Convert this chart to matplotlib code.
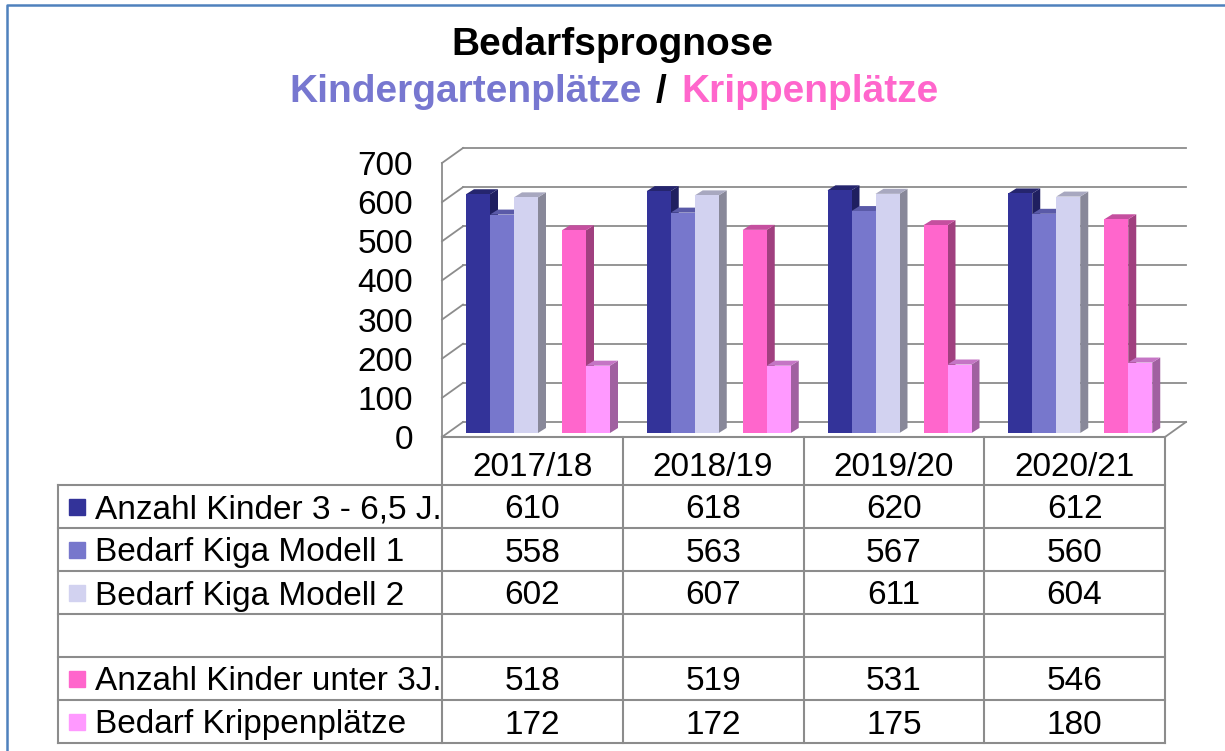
import matplotlib
matplotlib.use('Agg')
import matplotlib.pyplot as plt
from matplotlib.lines import Line2D
from matplotlib.patches import Polygon
import numpy as np

plt.rcParams['font.family'] = ['Liberation Sans', 'DejaVu Sans']

#%% DATEN
jahre = ['2017/18', '2018/19', '2019/20', '2020/21']
reihen = ['Anzahl Kinder 3 - 6,5 J.', 'Bedarf Kiga Modell 1', 'Bedarf Kiga Modell 2', '',
          'Anzahl Kinder unter 3J.', 'Bedarf Krippenplätze']
kinder_3_65 = [610, 618, 620, 612]
kiga_modell1 = [558, 563, 567, 560]
kiga_modell2 = [602, 607, 611, 604]
leer = [None, None, None, None]   # leere Zeile in der Tabelle
kinder_u3 = [518, 519, 531, 546]
krippe = [172, 172, 175, 180]
werte = [kinder_3_65, kiga_modell1, kiga_modell2, leer, kinder_u3, krippe]
y_ticks = [0, 100, 200, 300, 400, 500, 600, 700]

# Farben: vorne, oben, seite
farben = [('#333399', '#25256e', '#1f1f60'),
          ('#7777cc', '#5a5aa8', '#4f4f95'),
          ('#d2d2f0', '#a8a8c0', '#888899'),
          None,
          ('#ff66cc', '#c54f9f', '#a0407f'),
          ('#ff99ff', '#c575c5', '#a060a0')]
grau = '#8c8c8c'

#%% GEOMETRIE (Pixel -> Achsen)
W_PX, H_PX = 1225, 751
fig = plt.figure(figsize=(W_PX/100, H_PX/100), dpi=100)

x_l, x_r = 442, 1165      # vordere Kante Diagramm
y_0, y_700 = 437, 163
px_kat = (x_r - x_l) / 4.0
px_val = (y_0 - y_700) / 700.0

ax = fig.add_axes([x_l/W_PX, (H_PX-y_0)/H_PX, (x_r-x_l)/W_PX, (y_0-y_700)/H_PX])
ax.set_xlim(0, 4)
ax.set_ylim(0, 700)

DX, DY = 21/px_kat, 15/px_val     # Tiefe der Wände
W = 24/px_kat                     # Balkenbreite
TX, TY = 8/px_kat, 5/px_val       # Tiefe der Balken
BY0 = 4/px_val                    # Balkenebene

# Rückwand + Seitenwand
for v in y_ticks:
    ax.plot([DX, 4+DX], [v+DY, v+DY], color=grau, lw=1.3, clip_on=False, zorder=1)
    ax.plot([0, DX], [v, v+DY], color=grau, lw=1.3, clip_on=False, zorder=1)
ax.plot([0, 0], [0, 700], color=grau, lw=1.3, clip_on=False, zorder=1)
ax.plot([4, 4+DX], [0, DY], color=grau, lw=1.3, clip_on=False, zorder=1)

# 3D Balken
for j, (vals, f) in enumerate(zip(werte, farben)):
    if f is None:
        continue
    x0 = np.arange(4) + (j+1)*W
    z = 3 + j*0.01
    ax.bar(x0, vals, width=W, bottom=BY0, align='edge', color=f[0],
           edgecolor='none', zorder=z+0.005, clip_on=False)
    for xa, v in zip(x0, vals):
        xb = xa + W
        top = BY0 + v
        ax.add_patch(Polygon([(xb, BY0), (xb+TX, BY0+TY), (xb+TX, top+TY), (xb, top)],
                             closed=True, fc=f[2], ec='none', zorder=z, clip_on=False))
        ax.add_patch(Polygon([(xa, top), (xa+TX, top+TY), (xb+TX, top+TY), (xb, top)],
                             closed=True, fc=f[1], ec='none', zorder=z+0.002, clip_on=False))

ax.set_yticks(y_ticks)
ax.set_yticklabels([str(v) for v in y_ticks])
ax.tick_params(axis='y', length=0, pad=21, labelsize=24)
ax.set_xticks([])
for s in ax.spines.values():
    s.set_visible(False)
ax.set_facecolor('none')

#%% TABELLE
t_l, t_b = 58, 743
HK = 48/43.0
tab = fig.add_axes([t_l/W_PX, (H_PX-t_b)/H_PX, (x_r-t_l)/W_PX, (t_b-y_0)/H_PX])
XL = -(x_l - t_l)/px_kat
tab.set_xlim(XL, 4)
tab.set_ylim(6, -HK)
tab.axis('off')

for r in range(7):
    tab.plot([XL, 4], [r, r], color=grau, lw=1.5, clip_on=False)
tab.plot([0, 4], [-HK, -HK], color=grau, lw=1.5, clip_on=False)
tab.plot([XL, XL], [0, 6], color=grau, lw=1.5, clip_on=False)
for c in range(5):
    tab.plot([c, c], [-HK, 6], color=grau, lw=1.5, clip_on=False)

for c, j in enumerate(jahre):
    tab.text(c+0.5, -HK/2 + 0.06, j, ha='center', va='center_baseline', fontsize=24)

for r, (name, vals, f) in enumerate(zip(reihen, werte, farben)):
    if f is None:
        continue
    tab.plot(XL + 19/px_kat, r+0.5, 's', ms=11.5, color=f[0], mec=f[0], clip_on=False)
    tab.text(XL + 37/px_kat, r+0.5, name, ha='left', va='center_baseline', fontsize=24)
    for c, v in enumerate(vals):
        tab.text(c+0.5, r+0.5, str(v), ha='center', va='center_baseline', fontsize=24)

#%% TITEL
fig.text(612/W_PX, 1-45/H_PX, 'Bedarfsprognose', ha='center', va='center',
         fontsize=28, fontweight='bold')
fig.text(642/W_PX, 1-92/H_PX, 'Kindergartenplätze', ha='right', va='center',
         fontsize=28, fontweight='bold', color='#7777d0')
fig.text(661/W_PX, 1-92/H_PX, '/', ha='center', va='center',
         fontsize=28, fontweight='bold', color='black')
fig.text(681/W_PX, 1-92/H_PX, 'Krippenplätze', ha='left', va='center',
         fontsize=28, fontweight='bold', color='#ff66cc')

# Rahmen
fig.add_artist(Line2D([6.5/W_PX, 6.5/W_PX, 1], [0, 1-4.5/H_PX, 1-4.5/H_PX],
                      transform=fig.transFigure, color='#4f81bd', lw=1.8))

fig.savefig('out.png', dpi=100)
